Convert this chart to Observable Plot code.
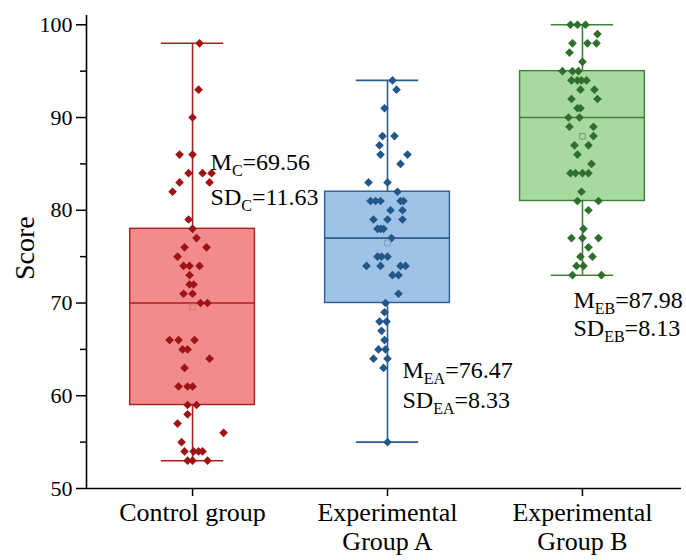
<!DOCTYPE html>
<html>
<head>
<meta charset="utf-8">
<script src="https://cdn.jsdelivr.net/npm/d3@7"></script>
<script src="https://cdn.jsdelivr.net/npm/@observablehq/plot@0.6"></script>
<style>
  body { margin: 0; background: #fff; }
  #chart svg { display: block; }
</style>
</head>
<body>
<div id="chart"></div>
<script>
// ---- categories ----
const groups = ["Control group", "Experimental\nGroup A", "Experimental\nGroup B"];

// ---- box statistics ----
const boxLow    = [53, 55, 73];
const boxQ1     = [59, 70, 81];
const boxMedian = [70, 77, 90];
const boxQ3     = [78, 82, 95];
const boxHigh   = [98, 94, 100];
const boxMean   = [69.56, 76.47, 87.98];

// ---- individual scores and their horizontal jitter (px) ----
const controlScores = [98,93,90,86,86,84,84,84,83,83,82,79,78,77,76,76,75,74,74,74,73,72,72,71,71,70,70,66,66,66,65,65,64,63,61,61,61,59,59,58,57,56,55,54,54,54,54,53,53,53];
const controlJitter = [7,6,0,-13,0,-4,10,19,-13,17,-20,-4,0,4,-8,14,-15,-9,-3,7,-3,-3,1,-9,0,8,15,-23,-14,2,-10,-5,17,-8,-14,-5,0,-5,4,-5,-15,31,-11,-8,1,6,10,-5,0,15];

const groupAScores = [94,93,91,88,88,87,86,86,85,83,83,82,81,81,81,81,81,80,80,79,79,79,78,78,78,77,75,75,75,74,74,74,74,73,73,71,70,69,68,68,67,66,65,65,64,64,63,55];
const groupAJitter = [5,9,-3,-5,7,-8,-7,20,13,-19,0,10,-17,-12,-7,13,16,3,15,-14,0,15,-10,-7,-4,4,-10,-6,0,-21,-7,13,18,5,11,11,-2,-3,-8,-1,-6,-3,-9,-2,-14,0,-4,0];

const groupBScores = [100,100,100,99,98,98,98,97,96,95,95,95,94,94,94,94,93,93,92,92,91,91,90,90,89,89,88,87,87,86,85,84,84,84,84,82,81,81,80,78,77,77,77,76,75,75,74,74,73,73];
const groupBJitter = [-12,-5,3,15,-10,5,14,-13,0,-20,-10,-4,-11,-5,-1,4,-2,12,-11,15,-5,-2,-14,-3,-13,11,11,-8,6,-5,9,-12,-7,0,6,-1,-5,16,6,1,-11,0,16,6,-2,10,-6,1,-10,19];

// ---- colours ----
const boxFill    = ["#f28b8b", "#9fc3e6", "#a8d9a0"];
const boxStroke  = ["#a82020", "#2d5d8e", "#3d8238"];
const dotFill    = ["#9e1414", "#22578a", "#2f6e2b"];
const meanStroke = ["#c97a7a", "#7f9bbb", "#73a06e"];

// ---- annotation texts ----
const annotGroup = [0, 0, 1, 1, 2, 2];
const annotY     = [85.2, 81.4, 62.7, 59.5, 70.3, 67.3];
const annotText  = ["M_C_=69.56", "SD_C_=11.63", "M_EA_=76.47", "SD_EA_=8.33", "M_EB_=87.98", "SD_EB_=8.13"];

// ---- ticks and axis title ----
const yMajorTicks = [50, 60, 70, 80, 90, 100];
const yMinorTicks = [55, 65, 75, 85, 95];
const yTitle = "Score";

// ---- build tables ----
const PX_PER_GROUP = 195;
const stats = groups.map((g, i) => ({
  i, lo: boxLow[i], q1: boxQ1[i], med: boxMedian[i], q3: boxQ3[i], hi: boxHigh[i], mean: boxMean[i]
}));
const points = [];
[[controlScores, controlJitter], [groupAScores, groupAJitter], [groupBScores, groupBJitter]].forEach(([s, j], g) => {
  s.forEach((v, k) => points.push({g, score: v, x: g + j[k] / PX_PER_GROUP}));
});
const labelShift = [18, 15, -9].map(v => v / PX_PER_GROUP);
const annotations = annotText.map((t, k) => ({x: annotGroup[k] + labelShift[annotGroup[k]], y: annotY[k], t}));

const halfBox = 0.32, halfCap = 0.16;
const xDomain = [-0.544, 2.508];
const SERIF = "Liberation Serif";

const plot = Plot.plot({
  width: 686,
  height: 560,
  marginLeft: 86,
  marginRight: 5,
  marginTop: 15,
  marginBottom: 72,
  style: {color: "#000", background: "#fff"},
  x: {type: "linear", domain: xDomain, axis: null},
  y: {domain: [50, 101], axis: null},
  marks: [
    // whiskers
    Plot.ruleX(stats, {x: "i", y1: "lo", y2: "hi", stroke: d => boxStroke[d.i], strokeWidth: 1.6}),
    Plot.ruleY(stats, {x1: d => d.i - halfCap, x2: d => d.i + halfCap, y: "lo", stroke: d => boxStroke[d.i], strokeWidth: 1.6}),
    Plot.ruleY(stats, {x1: d => d.i - halfCap, x2: d => d.i + halfCap, y: "hi", stroke: d => boxStroke[d.i], strokeWidth: 1.6}),
    // boxes
    Plot.rect(stats, {x1: d => d.i - halfBox, x2: d => d.i + halfBox, y1: "q1", y2: "q3", fill: d => boxFill[d.i], stroke: d => boxStroke[d.i], strokeWidth: 1.4}),
    // medians
    Plot.ruleY(stats, {x1: d => d.i - halfBox, x2: d => d.i + halfBox, y: "med", stroke: d => boxStroke[d.i], strokeWidth: 1.6}),
    // points
    Plot.dot(points, {x: "x", y: "score", symbol: "diamond2", r: 3.9, fill: d => dotFill[d.g], stroke: "none"}),
    // means
    Plot.dot(stats, {x: "i", y: "mean", symbol: "square", r: 3.2, fill: "none", stroke: d => meanStroke[d.i], strokeWidth: 1}),
    // annotations
    Plot.text(annotations, {x: "x", y: "y", text: "t", textAnchor: "start", lineAnchor: "middle", fontSize: 24, fontFamily: SERIF, fill: "#000"}),
    // axes
    Plot.ruleY([50], {stroke: "#000", strokeWidth: 1.6}),
    Plot.ruleX([xDomain[0]], {stroke: "#000", strokeWidth: 1.6}),
    Plot.axisY(yMajorTicks, {tickSize: 10, tickPadding: 4, fontSize: 22, fontFamily: SERIF, strokeWidth: 1.5, label: null}),
    Plot.axisY(yMinorTicks, {tickSize: 6, tickFormat: () => "", strokeWidth: 1.5, label: null}),
    Plot.axisX(d3.range(groups.length), {tickSize: 8, tickPadding: 5, fontSize: 26, fontFamily: SERIF, lineHeight: 1.08, tickFormat: i => groups[i], strokeWidth: 1.5, label: null}),
    Plot.text([yTitle], {frameAnchor: "left", text: d => d, rotate: -90, dx: -61, dy: 28, fontSize: 28, fontFamily: SERIF, fill: "#000"})
  ]
});

// subscripts for annotation labels
d3.select(plot).selectAll("text").each(function () {
  const t = this.textContent;
  const m = t.match(/^([A-Za-z]+)_([A-Za-z]+)_(.*)$/);
  if (!m) return;
  const sel = d3.select(this);
  sel.text(null);
  sel.append("tspan").text(m[1]);
  sel.append("tspan").attr("font-size", 16).attr("dy", 6).text(m[2]);
  sel.append("tspan").attr("dy", -6).text(m[3]);
});

document.getElementById("chart").append(plot);
</script>
</body>
</html>
